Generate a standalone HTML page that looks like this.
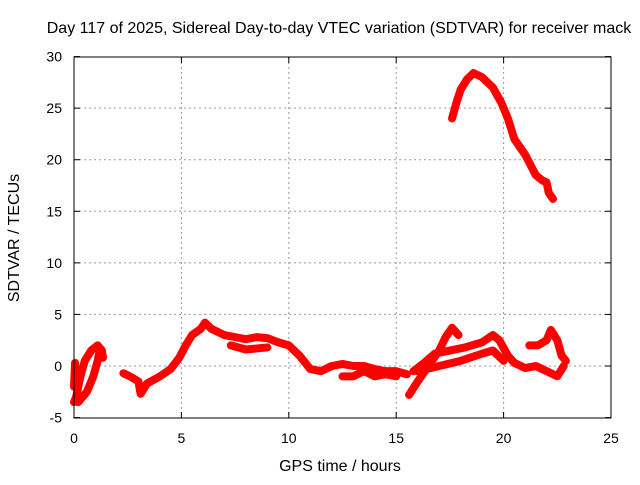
<!DOCTYPE html>
<html><head><meta charset="utf-8"><style>
body{margin:0;background:#fff}
svg text{font-family:"Liberation Sans",sans-serif;font-size:14px;fill:#000}
svg text.big{font-size:16px}
</style></head><body>
<svg id="chart" width="640" height="480" xmlns="http://www.w3.org/2000/svg">
<text class="big" x="339" y="33" text-anchor="middle">Day 117 of 2025, Sidereal Day-to-day VTEC variation (SDTVAR) for receiver mack</text>
<text class="big" x="340" y="471" text-anchor="middle">GPS time / hours</text>
<text class="big" transform="translate(19,238) rotate(-90)" text-anchor="middle">SDTVAR / TECUs</text>
<g id="grid"></g><g id="axes"></g><g id="series"></g>
<rect x="74" y="57" width="537" height="361" fill="none" stroke="#000" stroke-width="1"/>
</svg>
<script>
const xTicks=[0,5,10,15,20,25];
const yTicks=[-5,0,5,10,15,20,25,30];
const seriesTop=[[17.6,24],[17.8,25.5],[18,26.8],[18.3,27.8],[18.6,28.4],[19,28],[19.5,27],[19.9,25.5],[20.2,24],[20.5,22],[21,20.5],[21.5,18.5],[21.8,18],[22,17.8],[22.1,16.8],[22.3,16.2]];
const seriesA=[[0,-3.5],[0.1,-3],[0.3,-1],[0.5,0.5],[0.8,1.5],[1.1,2],[1.3,1.5],[1.35,0.8]];
const seriesB=[[0.2,-3.5],[0.6,-2.5],[0.9,-1],[1.1,0.5],[1.2,1.5]];
const seriesC=[[0,-2],[0.05,0.3]];
const seriesD=[[2.3,-0.7],[2.6,-1],[3,-1.5],[3.1,-2.7],[3.4,-1.7],[4,-1],[4.5,-0.3],[4.9,0.8],[5.2,2],[5.5,3],[5.9,3.6],[6.1,4.2],[6.4,3.6],[7,3],[7.5,2.8],[8,2.6],[8.5,2.8],[9,2.7],[9.5,2.3],[10,2],[10.5,1],[11,-0.3],[11.5,-0.5],[12,0],[12.5,0.2],[13,0],[13.5,0],[14,-0.3],[14.5,-0.5],[15,-0.5],[15.5,-0.8]];
const seriesE=[[7.3,2],[8,1.6],[9,1.8]];
const seriesF=[[12.5,-1],[13,-1],[13.5,-0.5],[14,-1],[14.5,-0.8],[15,-1]];
const seriesG=[[15.6,-2.8],[16,-1.5],[16.5,0],[17,1.5],[17.3,2.8],[17.6,3.7],[17.9,3]];
const seriesH=[[15.8,-0.5],[16.3,0.3],[16.8,1.2],[17.5,1.5],[18.2,1.8],[19,2.3],[19.5,3],[19.8,2.5],[20.2,1],[20.5,0.3],[21,-0.2],[21.5,0],[22,-0.5],[22.5,-1],[22.8,0]];
const seriesI=[[16,-0.5],[17,0],[18,0.5],[19,1.2],[19.5,1.5],[20,0.5]];
const seriesJ=[[21.2,2],[21.6,2],[22,2.5],[22.2,3.5],[22.5,2.5],[22.7,1],[22.9,0.5]];
const allSeries=[seriesTop,seriesA,seriesB,seriesC,seriesD,seriesE,seriesF,seriesG,seriesH,seriesI,seriesJ];
const X=h=>74+h*(537/25), Y=v=>366-v*(361/35);
const NS="http://www.w3.org/2000/svg";
const g=document.getElementById('grid'),ax=document.getElementById('axes'),sg=document.getElementById('series');
function mk(t,a,p){const e=document.createElementNS(NS,t);for(const k in a)e.setAttribute(k,a[k]);p.appendChild(e);return e;}
xTicks.forEach(t=>{const x=X(t);
 if(t>0&&t<25){const l=mk('line',{x1:x,x2:x,y1:57,y2:418,stroke:'#999','stroke-dasharray':'2,3'},g);
 }
 mk('line',{x1:x,x2:x,y1:418,y2:412,stroke:'#000'},ax);mk('line',{x1:x,x2:x,y1:57,y2:63,stroke:'#000'},ax);
 const tx=mk('text',{x:x,y:443,'text-anchor':'middle'},ax);tx.textContent=t;
 });
yTicks.forEach(t=>{const y=Y(t);
 if(t>-5&&t<30){const l=mk('line',{x1:74,x2:611,y1:y,y2:y,stroke:'#999','stroke-dasharray':'2,3'},g);
 }
 mk('line',{x1:74,x2:80,y1:y,y2:y,stroke:'#000'},ax);mk('line',{x1:611,x2:605,y1:y,y2:y,stroke:'#000'},ax);
 const tx=mk('text',{x:62,y:y+5,'text-anchor':'end'},ax);tx.textContent=t;
 });
allSeries.forEach(s=>{const pl=mk('polyline',{points:s.map(p=>X(p[0])+','+Y(p[1])).join(' '),fill:'none',stroke:'#f00','stroke-width':8,'stroke-linejoin':'round','stroke-linecap':'round'},sg);
 
 });
</script>
</body></html>
